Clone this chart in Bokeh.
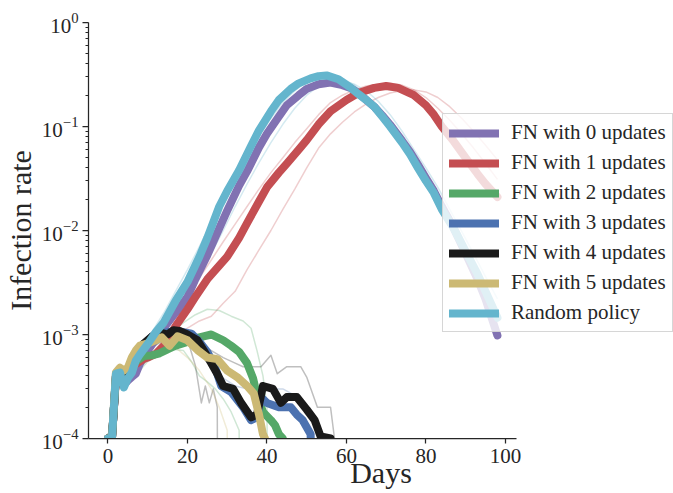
import numpy as np
from bokeh.plotting import figure
from bokeh.models import (ColumnDataSource, FixedTicker, LogTickFormatter, Legend,
                          LegendItem, Range1d)
from bokeh.embed import file_html
from bokeh.resources import INLINE

# ---------------- data ----------------
labels = ["FN with 0 updates", "FN with 1 updates", "FN with 2 updates",
          "FN with 3 updates", "FN with 4 updates", "FN with 5 updates",
          "Random policy"]
colors = ["#8172B2", "#C44E52", "#55A868", "#4C72B0", "#1a1a1a", "#CCB974", "#64B5CD"]

x_ticks = [0, 20, 40, 60, 80, 100]
y_major = [1e-4, 1e-3, 1e-2, 1e-1, 1.0]

# FN with 0 updates
days_fn0 = [0, 1, 2, 3, 4, 5, 6, 7, 8, 10, 12, 14, 16, 18, 20, 22, 25, 28, 30, 33, 35, 38,
            40, 43, 45, 48, 50, 53, 56, 59, 61, 63, 65, 67, 69, 71, 74, 76, 78, 80, 82, 84,
            87, 90, 93, 95, 98]
rate_fn0 = [1e-4, 1e-4, 4.0e-4, 4.2e-4, 3.3e-4, 3.6e-4, 3.9e-4, 4.2e-4, 5.2e-4, 7e-4, 9e-4,
            1.15e-3, 1.45e-3, 1.8e-3, 2.3e-3, 3.4e-3, 5.8e-3, 0.0105, 0.0155, 0.027, 0.037,
            0.063, 0.085, 0.125, 0.16, 0.2, 0.23, 0.255, 0.265, 0.25, 0.235, 0.21, 0.18,
            0.155, 0.128, 0.104, 0.073, 0.057, 0.043, 0.032, 0.024, 0.017, 0.0105, 0.006,
            0.0034, 0.0022, 0.00098]

# FN with 1 updates
days_fn1 = [0, 1, 2, 3, 4, 5, 7, 9, 10, 12, 14, 17, 20, 22, 25, 28, 30, 33, 35, 38, 40, 43,
            45, 48, 50, 53, 56, 60, 63, 67, 70, 73, 77, 80, 82, 84, 87, 90, 93, 95, 98]
rate_fn1 = [1e-4, 1e-4, 3.8e-4, 4.2e-4, 3.6e-4, 4.2e-4, 5.2e-4, 5.8e-4, 6.0e-4, 6.5e-4, 7.8e-4,
            1.2e-3, 1.75e-3, 2.3e-3, 3.4e-3, 4.6e-3, 5.6e-3, 8.5e-3, 0.0118, 0.019, 0.026,
            0.036, 0.044, 0.06, 0.074, 0.105, 0.14, 0.18, 0.21, 0.235, 0.245, 0.235, 0.2,
            0.16, 0.13, 0.1, 0.072, 0.05, 0.035, 0.028, 0.021]

# FN with 2 updates
days_fn2 = [0, 1, 2, 3, 4, 5, 7, 9, 11, 13, 15, 17, 20, 23, 26, 29, 31, 33, 35, 36.5, 37.5,
            39, 41, 42, 43, 44, 45]
rate_fn2 = [1e-4, 1e-4, 3.9e-4, 4.3e-4, 3.8e-4, 4.3e-4, 5.5e-4, 6.2e-4, 6.3e-4, 6.6e-4, 7.2e-4,
            7.8e-4, 8.5e-4, 9.4e-4, 1.0e-3, 8.8e-4, 7.8e-4, 6.8e-4, 5.3e-4, 3.8e-4, 2.6e-4,
            1.8e-4, 1.5e-4, 1.35e-4, 1.1e-4, 1e-4, 0]

# FN with 3 updates
days_fn3 = [0, 1, 2, 3, 4, 5, 7, 9, 11, 13, 15, 17, 19, 21, 23, 25, 27, 28.5, 31, 34, 36,
            37.5, 38.5, 40, 43, 46, 47.5, 49, 51, 52]
rate_fn3 = [1e-4, 1e-4, 4.0e-4, 4.3e-4, 4.0e-4, 4.5e-4, 5.8e-4, 8e-4, 9.5e-4, 1.02e-3, 1.05e-3,
            1.08e-3, 1.05e-3, 1.02e-3, 8.5e-4, 6.8e-4, 4.8e-4, 3.2e-4, 2.8e-4, 2.0e-4, 1.5e-4,
            1.6e-4, 2.5e-4, 2.2e-4, 2.0e-4, 2.0e-4, 1.7e-4, 1.5e-4, 1.1e-4, 0]

# FN with 4 updates
days_fn4 = [0, 1, 2, 3, 4, 5, 7, 9, 11, 13, 15, 16.5, 18, 20, 22.5, 24, 26, 27.5, 29, 31.5,
            33.5, 36, 37.5, 39, 41.5, 43.5, 45, 47.5, 50, 52, 53.5, 56, 57]
rate_fn4 = [1e-4, 1e-4, 4.0e-4, 4.4e-4, 4.2e-4, 4.6e-4, 6.0e-4, 8.2e-4, 9.5e-4, 1.05e-3, 1.0e-3,
            1.1e-3, 1.08e-3, 1.0e-3, 8.8e-4, 7.1e-4, 5.3e-4, 4.2e-4, 3.2e-4, 3.0e-4, 2.2e-4,
            1.6e-4, 1.7e-4, 3.2e-4, 3.0e-4, 2.2e-4, 2.5e-4, 2.5e-4, 1.9e-4, 1.5e-4, 1.05e-4,
            1e-4, 0]

# FN with 5 updates
days_fn5 = [0, 1, 2, 3, 4, 5, 6, 7, 8, 10, 12, 13.5, 15.5, 17.5, 20, 22.5, 25, 27.5, 30, 32.5,
            35, 36.7, 38, 39, 39.5, 40]
rate_fn5 = [1e-4, 1e-4, 4.3e-4, 4.8e-4, 4.5e-4, 4.8e-4, 6e-4, 7e-4, 7.8e-4, 8.2e-4, 8.8e-4,
            9.4e-4, 7.8e-4, 9.6e-4, 8.8e-4, 7.1e-4, 6e-4, 5.8e-4, 4.5e-4, 3.9e-4, 3.2e-4,
            2.7e-4, 1.7e-4, 1.1e-4, 1e-4, 0]

# Random policy
days_rand = [0, 1, 2, 3, 4, 5, 6, 7, 8, 10, 12, 14, 17, 20, 23, 25, 28, 30, 33, 36, 38, 41,
             43, 46, 48, 51, 53, 55, 58, 61, 63, 65, 67, 69, 71, 74, 76, 78, 80, 82, 84, 87,
             90, 93, 95, 98]
rate_rand = [1e-4, 1e-4, 4.2e-4, 4.3e-4, 3.1e-4, 3.8e-4, 4.3e-4, 5.6e-4, 6.4e-4, 8.1e-4,
             1.05e-3, 1.3e-3, 2.1e-3, 3.2e-3, 5.6e-3, 8.5e-3, 0.017, 0.024, 0.038, 0.065,
             0.092, 0.14, 0.18, 0.23, 0.26, 0.29, 0.305, 0.31, 0.285, 0.237, 0.205, 0.18,
             0.155, 0.125, 0.1, 0.07, 0.054, 0.04, 0.03, 0.023, 0.016, 0.0105, 0.0063,
             0.0038, 0.0026, 0.00145]

# individual runs (faint lines)
days_run = [0, 2, 5, 8, 11, 14, 17, 20, 23, 26, 29, 32, 35, 38, 41, 44, 47, 50, 53, 56, 59,
            62, 65, 68, 71, 74, 77, 80, 83, 86, 89, 92, 95, 98]
rand_run_a = [1e-4, 4.5e-4, 4.5e-4, 7e-4, 1.05e-3, 1.6e-3, 2.6e-3, 4.2e-3, 7e-3, 0.012, 0.02,
              0.033, 0.052, 0.08, 0.12, 0.17, 0.22, 0.27, 0.3, 0.31, 0.29, 0.25, 0.2, 0.15,
              0.11, 0.075, 0.05, 0.032, 0.02, 0.012, 0.0072, 0.0043, 0.0026, 0.0016]
rand_run_b = [1e-4, 3.8e-4, 3.5e-4, 5e-4, 7.5e-4, 1.05e-3, 1.5e-3, 2.3e-3, 3.6e-3, 6e-3, 0.01,
              0.017, 0.028, 0.045, 0.07, 0.105, 0.15, 0.2, 0.245, 0.27, 0.275, 0.255, 0.22,
              0.175, 0.13, 0.09, 0.06, 0.04, 0.026, 0.016, 0.0098, 0.006, 0.0036, 0.0022]
fn1_run_a = [1e-4, 4e-4, 4.5e-4, 6e-4, 7.5e-4, 1.0e-3, 1.5e-3, 2.3e-3, 3.5e-3, 5.2e-3, 7.8e-3,
             0.0115, 0.017, 0.025, 0.036, 0.05, 0.07, 0.095, 0.13, 0.17, 0.2, 0.225, 0.245,
             0.255, 0.26, 0.25, 0.225, 0.19, 0.15, 0.115, 0.085, 0.062, 0.044, 0.031]
fn1_run_b = [1e-4, 3.8e-4, 4e-4, 5.5e-4, 6.5e-4, 8e-4, 9.5e-4, 1.15e-3, 1.35e-3, 1.5e-3, 2.0e-3,
             2.6e-3, 4.2e-3, 6.5e-3, 0.01, 0.016, 0.025, 0.04, 0.062, 0.085, 0.11, 0.138,
             0.165, 0.19, 0.21, 0.222, 0.225, 0.215, 0.19, 0.155, 0.12, 0.09, 0.066, 0.048]

days_fn2_run_a = [0, 2, 5, 8, 10, 13, 16, 19, 22, 25, 28, 31, 34, 36, 37.5, 39, 40, 41]
fn2_run_a = [1e-4, 4e-4, 4.5e-4, 6e-4, 7e-4, 8.5e-4, 1.05e-3, 1.3e-3, 1.55e-3, 1.75e-3, 1.7e-3,
             1.5e-3, 1.35e-3, 1.15e-3, 7e-4, 4e-4, 2e-4, 0]
days_fn2_run_b = [0, 2, 5, 8, 10, 13, 16, 19, 21, 23, 25, 27, 29, 31, 33, 34]
fn2_run_b = [1e-4, 4e-4, 3.8e-4, 4.5e-4, 5.5e-4, 6.5e-4, 7.2e-4, 7e-4, 5.5e-4, 4e-4, 3.5e-4,
             3e-4, 2.4e-4, 1.8e-4, 1.2e-4, 0]
days_fn3_run = [0, 2, 5, 8, 11, 14, 17, 20, 23, 26, 29, 32, 35, 38, 41, 44, 47, 50, 53, 54]
fn3_run = [1e-4, 4e-4, 4.3e-4, 6e-4, 8e-4, 9.5e-4, 1e-3, 9e-4, 7e-4, 5e-4, 3.8e-4, 3.2e-4,
           3e-4, 3e-4, 3e-4, 3e-4, 2.6e-4, 2e-4, 1.2e-4, 0]
days_fn4_run_a = [0, 2, 5, 8, 11, 14, 17, 20, 22, 23.5, 24.5, 25.5, 26.5, 27.5, 28]
fn4_run_a = [1e-4, 4e-4, 4.6e-4, 6.5e-4, 8.5e-4, 1.0e-3, 1.1e-3, 9e-4, 5e-4, 2.2e-4, 3.2e-4,
             2.2e-4, 3.0e-4, 2.0e-4, 0]
days_fn4_run_b = [0, 2, 5, 8, 11, 14, 17, 20, 23, 26, 29, 32, 34, 38.5, 41, 42.6, 45, 48.5,
                  50, 52.7, 56, 57, 57.5]
fn4_run_b = [1e-4, 4e-4, 4.4e-4, 5.8e-4, 7.5e-4, 8.8e-4, 9.5e-4, 9e-4, 8e-4, 7e-4, 6e-4,
             5.3e-4, 4.9e-4, 4.9e-4, 6.3e-4, 4.2e-4, 4.9e-4, 4.9e-4, 3.9e-4, 2e-4, 2e-4,
             1e-4, 0]
days_fn5_run = [0, 2, 5, 8, 11, 14, 17, 20, 23, 26, 28, 30, 31]
fn5_run = [1e-4, 4.3e-4, 4.8e-4, 7e-4, 8.5e-4, 8.5e-4, 7.5e-4, 6e-4, 4.5e-4, 3e-4, 2e-4,
           1.2e-4, 0]

main_series = [(days_fn0, rate_fn0), (days_fn1, rate_fn1), (days_fn2, rate_fn2),
               (days_fn3, rate_fn3), (days_fn4, rate_fn4), (days_fn5, rate_fn5),
               (days_rand, rate_rand)]
runs = {
    0: [],
    1: [(days_run, fn1_run_a), (days_run, fn1_run_b)],
    2: [(days_fn2_run_a, fn2_run_a), (days_fn2_run_b, fn2_run_b)],
    3: [(days_fn3_run, fn3_run)],
    4: [(days_fn4_run_a, fn4_run_a), (days_fn4_run_b, fn4_run_b)],
    5: [(days_fn5_run, fn5_run)],
    6: [(days_run, rand_run_a), (days_run, rand_run_b)],
}

FLOOR = 1e-9  # zero values drawn below the log axis


def src(d, r):
    r = np.asarray(r, dtype=float)
    return ColumnDataSource(dict(x=d, y=np.where(r > 0, r, FLOOR)))


# ---------------- figure ----------------
INK = "#262626"
FONT = "Liberation Serif"
X_LO, X_HI = -4.9, 102.9          # visible x-axis extent
X_FRAME_HI = 142.3                # frame extended right so the legend can overlap

p = figure(width=673, height=493, y_axis_type="log", output_backend="svg",
           toolbar_location=None, x_range=Range1d(X_LO, X_FRAME_HI),
           y_range=Range1d(1e-4, 1.0),
           min_border_left=88, min_border_right=0, min_border_top=22, min_border_bottom=55)
p.outline_line_color = None
p.grid.visible = False
p.background_fill_color = "white"

# faint individual runs
for i in range(7):
    for d, r in runs[i]:
        p.line("x", "y", source=src(d, r), line_color=colors[i], line_width=1.5,
               line_alpha=0.28, line_join="round")

items = []
for i, (d, r) in enumerate(main_series):
    rend = p.line("x", "y", source=src(d, r), line_color=colors[i], line_width=8,
                  line_join="round", line_cap="round")
    items.append(LegendItem(label=labels[i], renderers=[rend]))

# axes
p.xaxis.ticker = FixedTicker(ticks=x_ticks)
p.xaxis.bounds = (X_LO, X_HI)
p.yaxis.ticker = FixedTicker(ticks=y_major,
                             minor_ticks=[m * 10.0 ** e for e in range(-4, 0) for m in range(2, 10)])
p.yaxis.formatter = LogTickFormatter()
for ax in (p.xaxis, p.yaxis):
    ax.axis_line_color = INK
    ax.axis_line_width = 1.25
    ax.major_tick_line_color = INK
    ax.major_tick_line_width = 1.25
    ax.minor_tick_line_color = INK
    ax.minor_tick_line_width = 1
    ax.major_tick_in = 0
    ax.minor_tick_in = 0
    ax.major_label_text_font = FONT
    ax.major_label_text_font_size = "21px"
    ax.major_label_text_color = INK
    ax.major_label_text_line_height = 1.0
    ax.axis_label_text_font = FONT
    ax.axis_label_text_font_size = "30px"
    ax.axis_label_text_font_style = "normal"
    ax.axis_label_text_color = INK
    ax.axis_label_text_line_height = 1.0
p.xaxis.minor_tick_line_color = None
p.xaxis.major_tick_out = 5
p.xaxis.major_label_standoff = 5
p.xaxis.axis_label = "Days"
p.xaxis.axis_label_standoff = -10
p.yaxis.major_tick_out = 6
p.yaxis.minor_tick_out = 3
p.yaxis.major_label_standoff = 4
p.yaxis.axis_label = "Infection rate"
p.yaxis.axis_label_standoff = 2

legend = Legend(items=items, location=(354, 106), orientation="vertical",
                label_text_font=FONT, label_text_font_size="21px", label_text_color=INK,
                border_line_color="#cccccc", border_line_alpha=0.8,
                background_fill_color="white", background_fill_alpha=0.8,
                padding=6, spacing=5, glyph_height=20, glyph_width=50, label_height=20,
                label_standoff=12, margin=0)
p.add_layout(legend)

open("out.html", "w").write(file_html(p, INLINE))
